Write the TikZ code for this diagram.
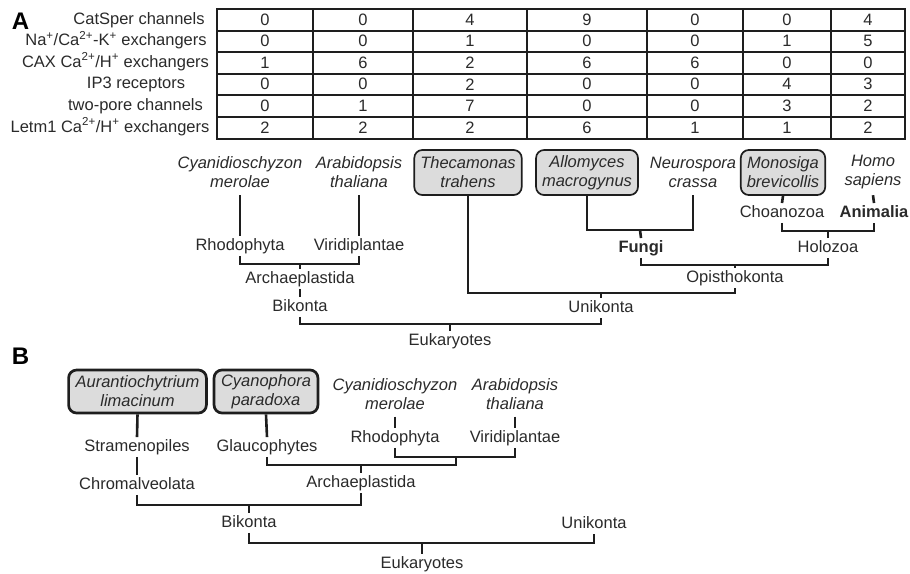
\documentclass[tikz,border=0pt]{standalone}
\usepackage{fontspec}
\setmainfont{Liberation Sans}
\definecolor{txt}{HTML}{2A2A2A}
\definecolor{ln}{HTML}{1E1E1E}
\definecolor{boxfill}{HTML}{DCDCDC}
\tikzset{
  lbl/.style={font=\fontsize{16.5}{19}\selectfont, text=txt, inner sep=2pt, text height=12pt, text depth=3.5pt},
  blbl/.style={lbl, font=\fontsize{16.5}{19}\selectfont\bfseries},
  sp/.style={font=\fontsize{16.5}{19}\selectfont\itshape, text=txt, align=center, inner ysep=0pt, inner xsep=6pt, minimum height=45pt},
  spbox/.style={sp, draw=ln, fill=boxfill, rounded corners=8pt, line width=1.7pt},
  spboxB/.style={spbox, line width=2.7pt, minimum height=43pt, inner xsep=7pt},
  tree/.style={draw=ln, line width=2.6pt},
  tbl/.style={draw=ln, line width=2pt},
  num/.style={font=\fontsize{16.5}{19}\selectfont, text=txt, inner sep=1pt},
  panel/.style={font=\fontsize{24}{24}\selectfont\bfseries, text=black, inner sep=0pt}
}
\begin{document}
\begin{tikzpicture}[x=1pt,y=-1pt]
\useasboundingbox (0,0) rectangle (910,573);

% ---------------- Panel A ----------------
\node[panel] (labA) at (20.5,21) {A};

% row labels
\node[lbl] (r1) at (139,19.75) {CatSper channels};
\node[lbl] (r2) at (116,41.25) {Na\textsuperscript{+}/Ca\textsuperscript{2+}-K\textsuperscript{+} exchangers};
\node[lbl] (r3) at (115.5,62.75) {CAX Ca\textsuperscript{2+}/H\textsuperscript{+} exchangers};
\node[lbl] (r4) at (136,84.25) {IP3 receptors};
\node[lbl] (r5) at (135.5,106) {two-pore channels};
\node[lbl] (r6) at (110,128) {Letm1 Ca\textsuperscript{2+}/H\textsuperscript{+} exchangers};

% table grid
\draw[tbl] (217,9) rectangle (905,139);
\foreach \x in {313,413,527,647,743,831} \draw[tbl] (\x,9) -- (\x,139);
\foreach \y in {30.5,52,73.5,95,117} \draw[tbl] (217,\y) -- (905,\y);

% table values
\foreach \x/\v [count=\c] in {265/0,363/0,470/4,587/9,695/0,787/0,868/4}
  \node[num] (n1-\c) at (\x,19.75) {\v};
\foreach \x/\v [count=\c] in {265/0,363/0,470/1,587/0,695/0,787/1,868/5}
  \node[num] (n2-\c) at (\x,41.25) {\v};
\foreach \x/\v [count=\c] in {265/1,363/6,470/2,587/6,695/6,787/0,868/0}
  \node[num] (n3-\c) at (\x,62.75) {\v};
\foreach \x/\v [count=\c] in {265/0,363/0,470/2,587/0,695/0,787/4,868/3}
  \node[num] (n4-\c) at (\x,84.25) {\v};
\foreach \x/\v [count=\c] in {265/0,363/1,470/7,587/0,695/0,787/3,868/2}
  \node[num] (n5-\c) at (\x,106) {\v};
\foreach \x/\v [count=\c] in {265/2,363/2,470/2,587/6,695/1,787/1,868/2}
  \node[num] (n6-\c) at (\x,128) {\v};

% species A
\node[sp] (cyanA) at (240,172.5) {Cyanidioschyzon\\merolae};
\node[sp] (araA) at (359,172.5) {Arabidopsis\\thaliana};
\node[spbox] (thecA) at (468,172.5) {Thecamonas\\trahens};
\node[spbox] (alloA) at (587,172.5) {Allomyces\\macrogynus};
\node[sp] (neuroA) at (693,172.5) {Neurospora\\crassa};
\node[spbox] (monoA) at (783,172.5) {Monosiga\\brevicollis};
\node[sp] (homoA) at (873,172.5) {Homo\\sapiens};

% clade labels A
\node[lbl] (rhoA) at (240,246) {Rhodophyta};
\node[lbl] (virA) at (359,246) {Viridiplantae};
\node[lbl] (archA) at (300,279) {Archaeplastida};
\node[lbl] (bikA) at (300,307) {Bikonta};
\node[blbl] (fungiA) at (641,248) {Fungi};
\node[lbl] (choanoA) at (782,213) {Choanozoa};
\node[blbl] (aniA) at (874,213) {Animalia};
\node[lbl] (holoA) at (828,248) {Holozoa};
\node[lbl] (opisA) at (735,278) {Opisthokonta};
\node[lbl] (uniA) at (601,308) {Unikonta};
\node[lbl] (eukA) at (450,341) {Eukaryotes};

% junctions A
\coordinate (jRV) at (300,264);
\coordinate (jBU) at (450,324);
\coordinate (jTO) at (601,293);
\coordinate (jAN) at (640,230);
\coordinate (jCA) at (828,231);
\coordinate (jFH) at (735,265);

% connectors A
\draw[tree] (cyanA.south) -- (rhoA.north);
\draw[tree] (araA.south) -- (virA.north);
\draw[tree] (rhoA.south) |- (jRV) -| (virA.south);
\draw[tree] (jRV) -- (archA.north);
\draw[tree] (archA.south) -- (bikA.north);
\draw[tree] (bikA.south) |- (jBU) -| (uniA.south);
\draw[tree] (jBU) -- (eukA.north);
\draw[tree] (thecA.south) |- (jTO) -| (opisA.south);
\draw[tree] (jTO) -- (uniA.north);
\draw[tree] (alloA.south) |- (jAN) -| (neuroA.south);
\draw[tree] (jAN) -- (fungiA.north);
\draw[tree] (monoA.south) -- (choanoA.north);
\draw[tree] (homoA.south) -- (aniA.north);
\draw[tree] (choanoA.south) |- (jCA) -| (aniA.south);
\draw[tree] (jCA) -- (holoA.north);
\draw[tree] (fungiA.south) |- (jFH) -| (holoA.south);
\draw[tree] (jFH) -- (opisA.north);

% ---------------- Panel B ----------------
\node[panel] (labB) at (20.5,356.5) {B};

\node[spboxB] (aurB) at (137.5,391.5) {Aurantiochytrium\\limacinum};
\node[spboxB] (cyanoB) at (266,391.5) {Cyanophora\\paradoxa};
\node[sp] (cyanB) at (395,394) {Cyanidioschyzon\\merolae};
\node[sp] (araB) at (515,394) {Arabidopsis\\thaliana};

\node[lbl] (stramB) at (137,447) {Stramenopiles};
\node[lbl] (glaucB) at (267,447) {Glaucophytes};
\node[lbl] (rhoB) at (395,438) {Rhodophyta};
\node[lbl] (virB) at (515,438) {Viridiplantae};
\node[lbl] (chromB) at (137,485) {Chromalveolata};
\node[lbl] (archB) at (361,483) {Archaeplastida};
\node[lbl] (bikB) at (249,523) {Bikonta};
\node[lbl] (uniB) at (594,524) {Unikonta};
\node[lbl] (eukB) at (422,564) {Eukaryotes};

\coordinate (jRVB) at (456,457);
\coordinate (jGA) at (361,465);
\coordinate (jCAB) at (249,505);
\coordinate (jBUB) at (422,543);

\draw[tree] (aurB.south) -- (stramB.north);
\draw[tree] (stramB.south) -- (chromB.north);
\draw[tree] (cyanoB.south) -- (glaucB.north);
\draw[tree] (cyanB.south) -- (rhoB.north);
\draw[tree] (araB.south) -- (virB.north);
\draw[tree] (rhoB.south) |- (jRVB) -| (virB.south);
\draw[tree] (glaucB.south) |- (jGA) -| (jRVB);
\draw[tree] (jGA) -- (archB.north);
\draw[tree] (chromB.south) |- (jCAB) -| (archB.south);
\draw[tree] (jCAB) -- (bikB.north);
\draw[tree] (bikB.south) |- (jBUB) -| (uniB.south);
\draw[tree] (jBUB) -- (eukB.north);
\end{tikzpicture}
\end{document}
